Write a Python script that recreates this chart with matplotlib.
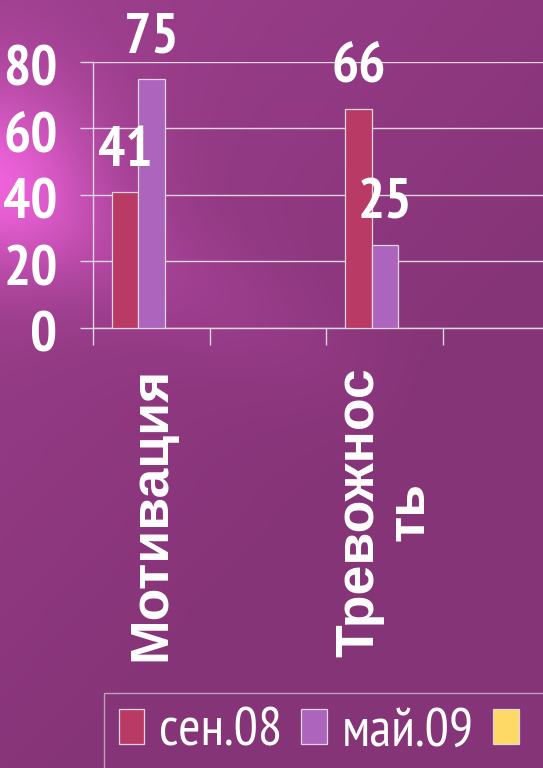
import numpy as np
import matplotlib.pyplot as plt
from matplotlib.transforms import ScaledTranslation

# данные диаграммы
categories = ['Мотивация', '', 'Тревожнос\nть', '']
series_names = ['сен.08', 'май.09', '']
sen08 = [41, np.nan, 66, np.nan]
may09 = [75, np.nan, 25, np.nan]
third = [np.nan, np.nan, np.nan, np.nan]
y_ticks = [0, 20, 40, 60, 80]

colors = ['#B93A64', '#AC64BC', '#FFD966']
narrow = ['PT Sans Narrow', 'DejaVu Sans']
bold = ['Liberation Sans', 'DejaVu Sans']

W, H = 543, 768
fig = plt.figure(figsize=(W / 100, H / 100), dpi=100)

# фон: фиолетовый градиент с бликом слева
yy, xx = np.mgrid[0:H, 0:W].astype(float)
base = np.array([134, 52, 120]) / 255.0
img = np.ones((H, W, 3)) * base
tl = np.clip(1 - (xx / W * 0.7 + yy / H * 0.9), 0, 1)
img += tl[..., None] * np.array([24, 11, 22]) / 255.0
glow = np.exp(-(xx ** 2 + (yy - 170) ** 2) / (2 * 75.0 ** 2))
img += glow[..., None] * np.array([60, 28, 58]) / 255.0
dx, dy = 340.0, 150.0
nrm = np.hypot(dx, dy)
d = np.abs((xx - 0) * dy - (yy - 200) * dx) / nrm
fade = np.clip(1 - xx / 420.0, 0, 1)
streak = np.exp(-d ** 2 / (2 * 45.0 ** 2)) * fade
img += streak[..., None] * np.array([28, 11, 26]) / 255.0
img = np.clip(img, 0, 1)

bg = fig.add_axes([0, 0, 1, 1], zorder=-10)
bg.imshow(img, aspect='auto', interpolation='bilinear')
bg.axis('off')

cat_w = 116.7
ax = fig.add_axes([93 / W, 1 - 328 / H, 4 * cat_w / W, 266 / H])
ax.patch.set_alpha(0)

x = np.arange(len(categories)) + 0.5
bw = 0.227
line_col = '#DCD6DE'
bars = []
for i, (vals, col) in enumerate(zip([sen08, may09, third], colors)):
    b = ax.bar(x + (i - 1) * bw, vals, bw, color=col, edgecolor=line_col, linewidth=0.9, zorder=3)
    bars.append(b)
    for xi, v in zip(x + (i - 1) * bw, vals):
        if not np.isnan(v):
            ax.annotate(str(int(v)), (xi, v), xytext=(0, 18.7), textcoords='offset points',
                        ha='center', va='baseline', color='white', fontsize=41,
                        family=narrow, fontweight='bold', zorder=5)

ax.set_xlim(0, 4)
ax.set_ylim(0, 80)
ax.set_yticks(y_ticks)
ax.yaxis.grid(True, color=line_col, linewidth=1.0, zorder=0)
ax.set_axisbelow(True)
for s in ['top', 'right']:
    ax.spines[s].set_visible(False)
for s in ['left', 'bottom']:
    ax.spines[s].set_color(line_col)
    ax.spines[s].set_linewidth(1.0)

ax.tick_params(axis='y', direction='out', length=9.4, width=1.0, color=line_col, pad=16,
               labelcolor='white', labelsize=41)
for lab in ax.get_yticklabels():
    lab.set_family(narrow)
    lab.set_fontweight('bold')
    lab.set_transform(lab.get_transform() + ScaledTranslation(0, -4 / 100, fig.dpi_scale_trans))

ax.set_xticks([0, 1, 2, 3])
ax.set_xticklabels([])
ax.tick_params(axis='x', which='major', direction='out', length=12.2, width=1.0, color=line_col)
ax.set_xticks(x, minor=True)
ax.set_xticklabels(categories, minor=True, rotation=90, color='white', fontsize=38.5,
                   family=bold, fontweight='bold', linespacing=1.0)
ax.tick_params(axis='x', which='minor', length=0, pad=28)

leg = fig.legend(handles=bars, labels=series_names, loc='upper left',
                 bbox_to_anchor=(104 / W, 1 - 693 / H), ncol=3,
                 prop={'family': narrow, 'size': 39}, labelcolor='white',
                 handlelength=0.47, handleheight=0.6, handletextpad=0.27,
                 columnspacing=0.36, borderpad=0.27, borderaxespad=0,
                 fancybox=False, frameon=True)
leg.get_frame().set_facecolor('none')
leg.get_frame().set_edgecolor('#C8C0CC')
leg.get_frame().set_linewidth(1.0)

fig.savefig('out.png', dpi=100)
